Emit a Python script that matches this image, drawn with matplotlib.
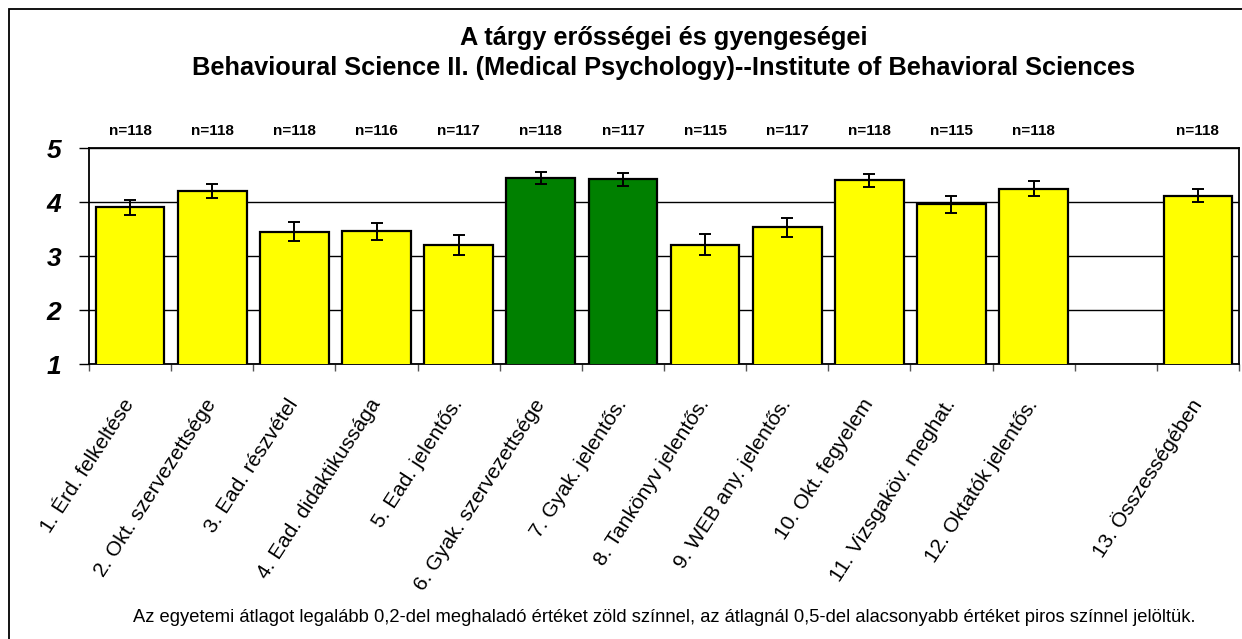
import numpy as np
import matplotlib
matplotlib.use("Agg")
import matplotlib.pyplot as plt
from matplotlib.patches import Rectangle
import matplotlib.transforms as mtransforms

plt.rcParams['font.family'] = ['Liberation Sans', 'DejaVu Sans']

categories = ["1. Érd. felkeltése", "2. Okt. szervezettsége", "3. Ead. részvétel",
              "4. Ead. didaktikussága", "5. Ead. jelentős.", "6. Gyak. szervezettsége",
              "7. Gyak. jelentős.", "8. Tankönyv jelentős.", "9. WEB any. jelentős.",
              "10. Okt. fegyelem", "11. Vizsgaköv. meghat.", "12. Oktatók jelentős.",
              "", "13. Összességében"]
values = [3.90, 4.20, 3.45, 3.46, 3.20, 4.44, 4.42, 3.21, 3.53, 4.40, 3.96, 4.25, np.nan, 4.12]
errors = [0.14, 0.13, 0.18, 0.16, 0.18, 0.11, 0.12, 0.19, 0.18, 0.12, 0.155, 0.135, np.nan, 0.125]
n_counts = ["n=118", "n=118", "n=118", "n=116", "n=117", "n=118", "n=117", "n=115",
            "n=117", "n=118", "n=115", "n=118", "", "n=118"]
bar_colors = ["#FFFF00"] * 5 + ["#008000"] * 2 + ["#FFFF00"] * 7
title_lines = ["A tárgy erősségei és gyengeségei",
               "Behavioural Science II. (Medical Psychology)--Institute of Behavioral Sciences"]
footnote = ("Az egyetemi átlagot legalább 0,2-del meghaladó értéket zöld színnel, "
            "az átlagnál 0,5-del alacsonyabb értéket piros színnel jelöltük.")
yticks = [1, 2, 3, 4, 5]

W, H = 1242, 639
fig = plt.figure(figsize=(W / 100, H / 100), dpi=100)
ax = fig.add_axes([89 / W, 1 - 364 / H, (1239 - 89) / W, (364 - 148) / H])

x = np.arange(len(categories))
vals = np.array(values, dtype=float)
errs = np.array(errors, dtype=float)
ax.bar(x, vals, width=0.835, color=bar_colors, edgecolor='black', linewidth=1.6, zorder=3)
ax.errorbar(x, vals, yerr=errs, fmt='none', ecolor='black', elinewidth=1.4,
            capsize=4, capthick=1.4, zorder=4)

ax.set_xlim(-0.5, len(categories) - 0.5)
ax.set_ylim(1, 5)
ax.set_yticks(yticks)
ax.set_yticklabels([str(t) for t in yticks], fontsize=19, fontweight='bold', fontstyle='italic')
ax.tick_params(axis='y', length=7, width=1, pad=13, direction='out')
ax.yaxis.grid(True, color='black', linewidth=1)
ax.set_axisbelow(True)

# ticks at category boundaries
ax.set_xticks(np.arange(-0.5, len(categories), 1.0))
ax.set_xticklabels([])
ax.tick_params(axis='x', length=5, width=1, direction='out', color='#555555')
for s in ax.spines.values():
    s.set_linewidth(1.3)
    s.set_color('black')

# category labels
ltrans = mtransforms.blended_transform_factory(ax.transData, ax.transAxes)
for xi, lab in zip(x, categories):
    if lab:
        ax.text(xi + 0.0, -0.17, lab, rotation=57, rotation_mode='anchor',
                ha='right', va='center', fontsize=15, transform=ltrans)

# n labels
trans = mtransforms.blended_transform_factory(ax.transData, fig.transFigure)
for xi, t in zip(x, n_counts):
    if t:
        ax.text(xi, 1 - 131 / H, t, transform=trans, ha='center', va='center',
                fontsize=11, fontweight='bold')

cx = (89 + 1239) / 2 / W
fig.text(cx, 1 - 38 / H, title_lines[0], ha='center', va='center', fontsize=18.3, fontweight='bold')
fig.text(cx, 1 - 68 / H, title_lines[1], ha='center', va='center', fontsize=18.3, fontweight='bold')
fig.text(cx, 1 - 617 / H, footnote, ha='center', va='center', fontsize=13.2)

fig.patches.append(Rectangle((9 / W, -0.1), 1.2, 1 - 9 / H + 0.1, transform=fig.transFigure,
                             fill=False, edgecolor='black', linewidth=1.3))

fig.savefig("out.png", dpi=100)
